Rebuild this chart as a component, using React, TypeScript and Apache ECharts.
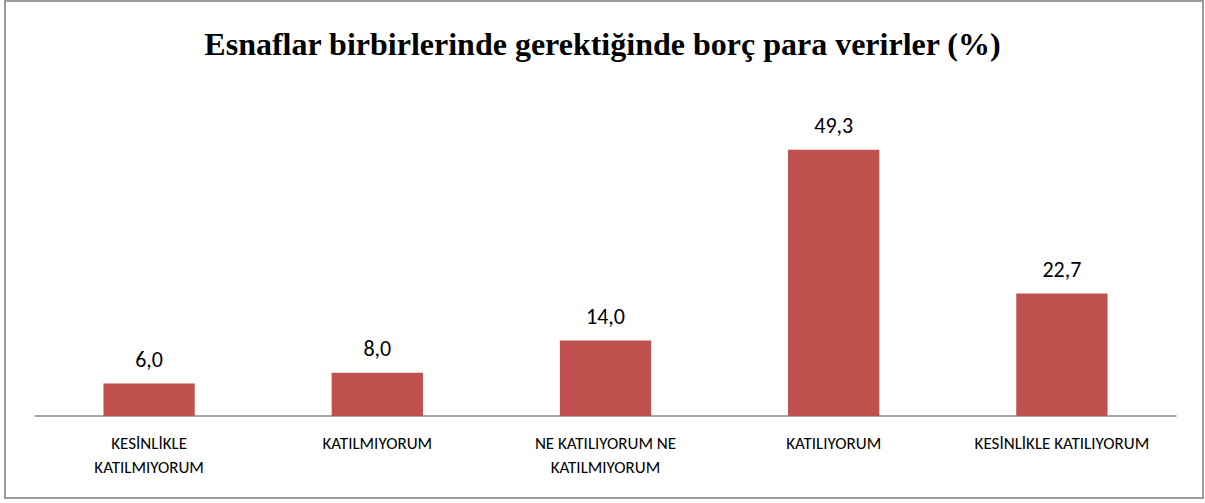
import React, { useEffect, useRef } from "react";
import * as echarts from "echarts";

const categories = [
  "KESİNLİKLE KATILMIYORUM",
  "KATILMIYORUM",
  "NE KATILIYORUM NE KATILMIYORUM",
  "KATILIYORUM",
  "KESİNLİKLE KATILIYORUM",
];
const axisLabels = [
  "KESİNLİKLE\nKATILMIYORUM",
  "KATILMIYORUM",
  "NE KATILIYORUM NE\nKATILMIYORUM",
  "KATILIYORUM",
  "KESİNLİKLE KATILIYORUM",
];
const values = [6.0, 8.0, 14.0, 49.3, 22.7];
const titleText = "Esnaflar birbirlerinde gerektiğinde borç para verirler (%)";

const labelFont = "Carlito, 'Liberation Sans Narrow', 'Open Sans', sans-serif";

export default function App() {
  const ref = useRef<HTMLDivElement>(null);
  useEffect(() => {
    if (!ref.current) return;
    const chart = echarts.init(ref.current, undefined, { renderer: "svg" });
    chart.setOption({
      animation: false,
      backgroundColor: "#ffffff",
      title: {
        text: titleText,
        left: "center",
        top: 23,
        textStyle: {
          fontFamily: "'Liberation Serif', 'Times New Roman', serif",
          fontWeight: "bold",
          fontSize: 32,
          color: "#000000",
        },
      },
      graphic: [
        {
          type: "rect",
          shape: { x: 5, y: 1, width: 1198, height: 497 },
          style: { fill: "none", stroke: "#9a9a9a", lineWidth: 2 },
          silent: true,
        },
      ],
      grid: { left: 35, right: 29, top: 92, bottom: 87 },
      xAxis: {
        type: "category",
        data: categories,
        axisTick: { show: false },
        axisLine: { lineStyle: { color: "#8a8a8a", width: 1.5 } },
        axisLabel: {
          interval: 0,
          margin: 15,
          color: "#000000",
          fontFamily: labelFont,
          fontSize: 17,
          lineHeight: 24,
          formatter: (_v: string, i: number) => axisLabels[i],
        },
      },
      yAxis: {
        type: "value",
        min: 0,
        max: 60,
        interval: 10,
        show: false,
        splitLine: { show: false },
      },
      series: [
        {
          type: "bar",
          data: values,
          barWidth: "40%",
          itemStyle: { color: "#C0504D" },
          label: {
            show: true,
            position: "top",
            distance: 13,
            color: "#000000",
            fontFamily: labelFont,
            fontSize: 22,
            formatter: (p: any) => p.value.toFixed(1).replace(".", ","),
          },
        },
      ],
    });
    return () => chart.dispose();
  }, []);
  return (
    <div
      ref={ref}
      style={{ position: "fixed", left: 0, top: 0, width: 1205, height: 503 }}
    />
  );
}
